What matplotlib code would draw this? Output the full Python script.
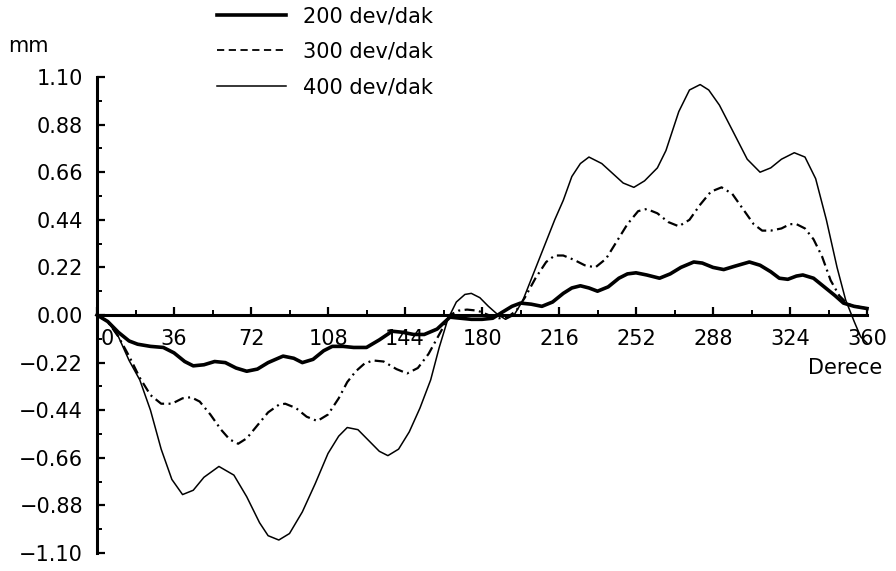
import numpy as np
import matplotlib.pyplot as plt
from matplotlib.lines import Line2D
from matplotlib.ticker import MultipleLocator, FixedLocator, FixedFormatter
from matplotlib.transforms import ScaledTranslation

# 200 dev/dak
x200 = [0, 5, 10, 15, 19, 25, 31, 36, 41, 45, 50, 55, 60, 65, 70, 75, 80, 87, 92, 96,
        101, 106, 110, 115, 120, 126, 132, 138, 143, 148, 153, 159, 165, 170, 175, 180,
        185, 189, 194, 198, 203, 208, 213, 218, 222, 226, 230, 234, 239, 244, 248, 252,
        257, 263, 268, 273, 279, 283, 288, 293, 298, 305, 310, 315, 319, 323, 327, 330,
        335, 340, 345, 349, 354, 360]
y200 = [0, -0.03, -0.08, -0.12, -0.135, -0.145, -0.15, -0.175, -0.215, -0.235,
        -0.23, -0.215, -0.22, -0.245, -0.26, -0.25, -0.22, -0.19, -0.20, -0.22,
        -0.205, -0.165, -0.145, -0.145, -0.15, -0.15, -0.115, -0.075, -0.08, -0.09,
        -0.09, -0.065, -0.01, -0.015, -0.02, -0.02, -0.015, 0.01, 0.04, 0.055,
        0.05, 0.04, 0.06, 0.10, 0.125, 0.135, 0.125, 0.11, 0.13, 0.17,
        0.19, 0.195, 0.185, 0.17, 0.19, 0.22, 0.245, 0.24, 0.22, 0.21,
        0.225, 0.245, 0.23, 0.20, 0.17, 0.165, 0.18, 0.185, 0.17, 0.13,
        0.09, 0.055, 0.04, 0.03]

# 300 dev/dak
x300 = [0, 5, 10, 15, 20, 25, 30, 35, 40, 44, 48, 53, 58, 62, 66, 70, 75, 80, 85, 88,
        93, 98, 103, 108, 113, 117, 121, 125, 129, 134, 140, 145, 150, 155, 160, 165,
        169, 173, 178, 183, 188, 192, 196, 200, 205, 210, 214, 218, 223, 228, 233, 238,
        243, 248, 253, 257, 262, 267, 272, 277, 282, 287, 292, 297, 302, 307, 311, 315,
        320, 324, 327, 331, 335, 339, 343, 347, 351, 355, 360]
y300 = [0, -0.03, -0.10, -0.19, -0.29, -0.37, -0.41, -0.41, -0.385, -0.38,
        -0.40, -0.46, -0.53, -0.575, -0.595, -0.57, -0.51, -0.45, -0.415, -0.41,
        -0.43, -0.47, -0.49, -0.46, -0.385, -0.31, -0.26, -0.225, -0.21, -0.215,
        -0.25, -0.27, -0.245, -0.18, -0.09, 0.0, 0.02, 0.025, 0.02, 0.0,
        -0.015, -0.01, 0.02, 0.08, 0.17, 0.245, 0.275, 0.275, 0.255, 0.23,
        0.22, 0.26, 0.34, 0.42, 0.48, 0.49, 0.47, 0.43, 0.41, 0.44,
        0.51, 0.57, 0.59, 0.56, 0.49, 0.42, 0.39, 0.39, 0.40, 0.42,
        0.42, 0.40, 0.35, 0.27, 0.16, 0.09, 0.05, 0.04, 0.03]

# 400 dev/dak
x400 = [0, 5, 10, 15, 20, 25, 30, 35, 40, 45, 50, 57, 64, 70, 76, 80, 85, 90, 96,
        102, 108, 113, 117, 122, 127, 132, 136, 141, 146, 151, 156, 160, 164, 168,
        172, 175, 179, 183, 187, 191, 195, 199, 204, 210, 214, 218, 222, 226, 230,
        236, 241, 246, 251, 256, 262, 266, 272, 277, 282, 286, 291, 297, 304, 310,
        315, 320, 326, 331, 336, 341, 346, 350, 354, 357, 360]
y400 = [0, -0.03, -0.10, -0.21, -0.30, -0.44, -0.62, -0.76, -0.83,
        -0.81, -0.75, -0.70, -0.74, -0.84, -0.96, -1.02, -1.04, -1.01, -0.91,
        -0.78, -0.64, -0.56, -0.52, -0.53, -0.58, -0.63, -0.65, -0.62, -0.54,
        -0.43, -0.30, -0.15, -0.02, 0.06, 0.095, 0.10, 0.08, 0.04, 0.005,
        -0.02, 0.0, 0.065, 0.19, 0.34, 0.44, 0.53, 0.64, 0.70, 0.73,
        0.70, 0.655, 0.61, 0.59, 0.62, 0.68, 0.76, 0.94, 1.04, 1.065,
        1.04, 0.97, 0.855, 0.72, 0.66, 0.68, 0.72, 0.75, 0.73, 0.63,
        0.44, 0.22, 0.07, -0.03, -0.10, -0.13]

labels = ["200 dev/dak", "300 dev/dak", "400 dev/dak"]
xticks = [0, 36, 72, 108, 144, 180, 216, 252, 288, 324, 360]
yticks = [-1.10, -0.88, -0.66, -0.44, -0.22, 0.00, 0.22, 0.44, 0.66, 0.88, 1.10]
ytick_labels = ["\u22121.10", "\u22120.88", "\u22120.66", "\u22120.44", "\u22120.22",
                "0.00", "0.22", "0.44", "0.66", "0.88", "1.10"]

plt.rcParams['font.family'] = 'DejaVu Sans'

fig = plt.figure(figsize=(8.96, 5.71), dpi=100)
ax = fig.add_axes([97 / 896, 1 - 553 / 571, 770 / 896, 476 / 571])

ax.plot(x200, y200, color='black', lw=2.6, clip_on=False, solid_joinstyle='round')
ax.plot(x300, y300, color='black', lw=1.6, ls=(0, (4.5, 2.0, 0.9, 2.0)), clip_on=False,
        dash_joinstyle='round')
ax.plot(x400, y400, color='black', lw=1.1, clip_on=False, solid_joinstyle='round')

ax.set_xlim(0, 360)
ax.set_ylim(-1.1, 1.1)

ax.spines['top'].set_visible(False)
ax.spines['right'].set_visible(False)
ax.spines['bottom'].set_position(('data', 0))
ax.spines['left'].set_linewidth(2.2)
ax.spines['bottom'].set_linewidth(2.2)

ax.xaxis.set_major_locator(FixedLocator(xticks))
ax.xaxis.set_minor_locator(MultipleLocator(18))
ax.yaxis.set_major_locator(FixedLocator(yticks))
ax.yaxis.set_major_formatter(FixedFormatter(ytick_labels))
ax.yaxis.set_minor_locator(MultipleLocator(0.11))

ax.tick_params(axis='both', which='major', direction='in', length=6, width=1.6,
               labelsize=15)
ax.tick_params(axis='both', which='minor', direction='in', length=3.5, width=1.4)
ax.tick_params(axis='x', which='major', pad=10)
ax.tick_params(axis='y', which='major', pad=10)

# "0" sits just right of the y axis
first = ax.get_xticklabels()[0]
first.set_horizontalalignment('left')
first.set_transform(first.get_transform() + ScaledTranslation(4 / 100, 0, fig.dpi_scale_trans))

fig.text(8 / 896, 1 - 46 / 571, "mm", fontsize=15, ha='left', va='center')
fig.text(808 / 896, 1 - 368 / 571, "Derece", fontsize=15, ha='left', va='center')

handles = [
    Line2D([], [], color='black', lw=2.6),
    Line2D([], [], color='black', lw=1.3, ls=(0, (4, 2.5))),
    Line2D([], [], color='black', lw=1.1),
]
fig.legend(handles, labels, loc='upper left', bbox_to_anchor=(217 / 896, 1 - 6 / 571),
           frameon=False, fontsize=15, handlelength=3.3, handletextpad=0.85,
           labelspacing=0.75, borderpad=0, borderaxespad=0)

plt.savefig("out.png", dpi=100)
